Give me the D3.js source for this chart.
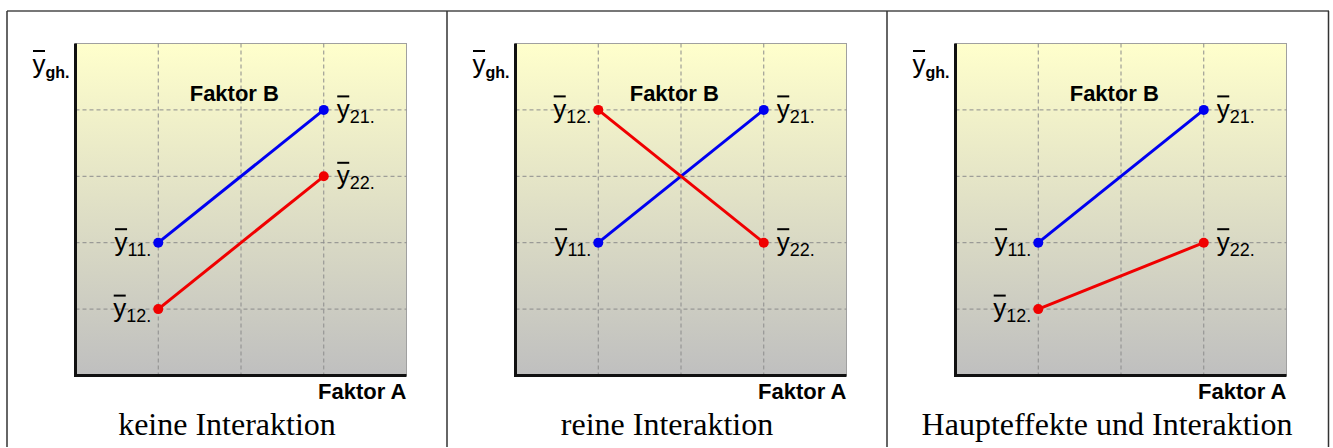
<!DOCTYPE html>
<html>
<head>
<meta charset="utf-8">
<script src="https://cdn.jsdelivr.net/npm/d3@7"></script>
<style>
  body { margin: 0; background: #fff; }
  svg { display: block; }
</style>
</head>
<body>
<div class="chart"></div>
<script>
// Data
const captions = ["keine Interaktion", "reine Interaktion", "Haupteffekte und Interaktion"];
const factorA = [1, 3];                       // x positions of the two A levels
const b1Values = [[2, 4], [2, 4], [2, 4]];    // blue line (B = 1) per panel
const b2Values = [[1, 3], [4, 2], [1, 2]];    // red line (B = 2) per panel
const b1Labels = ["11.", "21."];
const b2Labels = ["12.", "22."];
const xTicks = [1, 2, 3];
const yTicks = [1, 2, 3, 4];

// Layout
const W = 1333, H = 448;
const frameLeft = 7, frameTop = 11, panelW = 440;
const plot = { left: 68.5, top: 43.5, width: 331, height: 332 };

const sans = "'Liberation Sans', Arial, Helvetica, sans-serif";
const serif = "'Liberation Serif', 'Times New Roman', serif";

const x = d3.scaleLinear().domain([0, 4]).range([0, plot.width]);
const y = d3.scaleLinear().domain([0, 5]).range([plot.height, 0]);

const svg = d3.select(".chart").append("svg")
    .attr("width", W)
    .attr("height", H);

const defs = svg.append("defs");
const grad = defs.append("linearGradient")
    .attr("id", "bg")
    .attr("x1", 0).attr("y1", 0).attr("x2", 0).attr("y2", 1);
grad.append("stop").attr("offset", "0%").attr("stop-color", "#ffffcc");
grad.append("stop").attr("offset", "100%").attr("stop-color", "#bfbfbf");

// outer frame
svg.append("line")
    .attr("x1", frameLeft).attr("x2", W - 4)
    .attr("y1", frameTop).attr("y2", frameTop)
    .attr("stroke", "#777").attr("stroke-width", 2);
[0, 1, 2, 3].forEach(i => {
    const fx = i < 3 ? frameLeft + i * panelW : W - 4.5;
    svg.append("line")
        .attr("x1", fx).attr("x2", fx)
        .attr("y1", frameTop).attr("y2", H - 1)
        .attr("stroke", "#333").attr("stroke-width", 1.5);
});

// y-bar label: big y with overline + subscript
function yBar(g, px, py, sub, anchor, subSize, subBold) {
    const t = g.append("text")
        .attr("y", py)
        .style("font-family", sans);
    const main = t.append("tspan")
        .style("font-size", "26px")
        .text("y");
    t.append("tspan")
        .attr("dy", 5)
        .style("font-size", subSize + "px")
        .style("font-weight", subBold ? "bold" : "normal")
        .text(sub);
    const total = t.node().getComputedTextLength();
    const x0 = anchor === "end" ? px - total : px;
    t.attr("x", x0);
    const yw = main.node().getComputedTextLength();
    g.append("line")
        .attr("x1", x0 + 0.5).attr("x2", x0 + yw - 0.5)
        .attr("y1", py - 21.5).attr("y2", py - 21.5)
        .attr("stroke", "#000").attr("stroke-width", 2);
}

captions.forEach((cap, i) => {
    const px = frameLeft + i * panelW;
    const panel = svg.append("g").attr("transform", "translate(" + px + ",0)");
    const g = panel.append("g")
        .attr("transform", "translate(" + plot.left + "," + plot.top + ")");

    g.append("rect")
        .attr("width", plot.width).attr("height", plot.height)
        .attr("fill", "url(#bg)")
        .attr("stroke", "#a0a0a0").attr("stroke-width", 1);

    // grid
    g.selectAll(".vgrid").data(xTicks).enter().append("line")
        .attr("x1", d => x(d)).attr("x2", d => x(d))
        .attr("y1", 0).attr("y2", plot.height)
        .attr("stroke", "#8c8c8c").attr("stroke-dasharray", "4,3");
    g.selectAll(".hgrid").data(yTicks).enter().append("line")
        .attr("x1", 0).attr("x2", plot.width)
        .attr("y1", d => y(d)).attr("y2", d => y(d))
        .attr("stroke", "#8c8c8c").attr("stroke-dasharray", "4,3");

    // axes (left + bottom, thick)
    g.append("path")
        .attr("d", "M0,0V" + plot.height + "H" + plot.width)
        .attr("fill", "none")
        .attr("stroke", "#111").attr("stroke-width", 3);

    const series = [
        { vals: b1Values[i], color: "#0000f0", labels: b1Labels },
        { vals: b2Values[i], color: "#f00000", labels: b2Labels }
    ];
    const line = d3.line().x(d => x(d[0])).y(d => y(d[1]));

    series.forEach(s => {
        const pts = factorA.map((a, k) => [a, s.vals[k]]);
        g.append("path")
            .attr("d", line(pts))
            .attr("fill", "none")
            .attr("stroke", s.color).attr("stroke-width", 3);
        g.selectAll(null).data(pts).enter().append("circle")
            .attr("cx", d => x(d[0])).attr("cy", d => y(d[1]))
            .attr("r", 5)
            .attr("fill", s.color);
        pts.forEach((p, k) => {
            if (k === 0) yBar(g, x(p[0]) - 7, y(p[1]) + 8, s.labels[k], "end", 18, false);
            else yBar(g, x(p[0]) + 13, y(p[1]) + 8, s.labels[k], "start", 18, false);
        });
    });

    // axis titles
    yBar(g, -43, 29, "gh.", "start", 16, true);
    g.append("text")
        .attr("x", x(1.38)).attr("y", 57)
        .style("font-family", sans).style("font-weight", "bold")
        .style("font-size", "22px")
        .text("Faktor B");
    g.append("text")
        .attr("x", plot.width).attr("y", plot.height + 23)
        .attr("text-anchor", "end")
        .style("font-family", sans).style("font-weight", "bold")
        .style("font-size", "22px")
        .text("Faktor A");

    // caption
    panel.append("text")
        .attr("x", panelW / 2).attr("y", 435)
        .attr("text-anchor", "middle")
        .style("font-family", serif)
        .style("font-size", "32px")
        .text(cap);
});
</script>
</body>
</html>
